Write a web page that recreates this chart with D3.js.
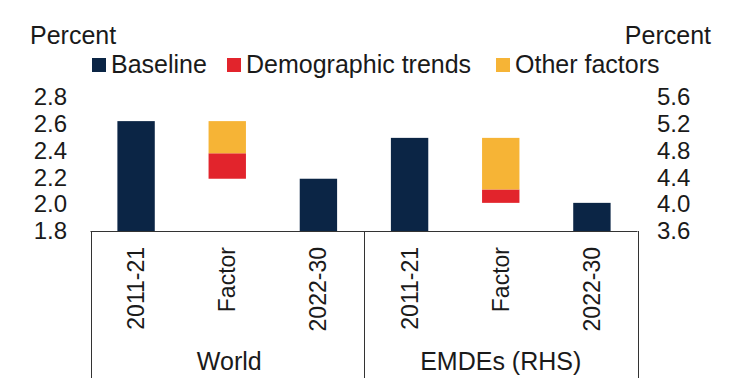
<!DOCTYPE html>
<html>
<head>
<meta charset="utf-8">
<script src="https://cdn.jsdelivr.net/npm/d3@7"></script>
<style>
  html, body { margin: 0; padding: 0; background: #fff; }
  svg { display: block; font-family: Arial, "Liberation Sans", sans-serif; }
</style>
</head>
<body>
<svg id="chart" width="731" height="386"></svg>
<script>
// ---- data ----
const groups = ["World", "EMDEs (RHS)"];
const periods = ["2011-21", "Factor", "2022-30"];
const baseline2011 = [2.62, 4.99];      // World (LHS), EMDEs (RHS)
const baseline2022 = [2.19, 4.02];
const demographicTrends = [-0.19, -0.20];
const otherFactors = [-0.24, -0.77];
const leftTicks = ["1.8", "2.0", "2.2", "2.4", "2.6", "2.8"];
const rightTicks = ["3.6", "4.0", "4.4", "4.8", "5.2", "5.6"];
const legendLabels = ["Baseline", "Demographic trends", "Other factors"];
const colors = { base: "#0b2545", demo: "#e2242c", other: "#f6b436" };

const svg = d3.select("#chart");
const textColor = "#1a1a1a";

const plotTop = 97, plotBottom = 231;
const yL = d3.scaleLinear().domain([1.8, 2.8]).range([plotBottom, plotTop]);
const yR = d3.scaleLinear().domain([3.6, 5.6]).range([plotBottom, plotTop]);
const scales = [yL, yR];

const cats = [];
groups.forEach(g => periods.forEach(p => cats.push(g + "|" + p)));
const x = d3.scaleBand().domain(cats).range([90.5, 637.5]).paddingInner(0.59).paddingOuter(0.295);
const step = x.step();

// build bar segments
const segs = [];
groups.forEach((g, i) => {
  const y = scales[i];
  segs.push({ cat: g + "|2011-21", y0: y.domain()[0], y1: baseline2011[i], color: colors.base, y });
  segs.push({ cat: g + "|2022-30", y0: y.domain()[0], y1: baseline2022[i], color: colors.base, y });
  const demoTop = baseline2022[i] - demographicTrends[i];
  segs.push({ cat: g + "|Factor", y0: baseline2022[i], y1: demoTop, color: colors.demo, y });
  segs.push({ cat: g + "|Factor", y0: demoTop, y1: demoTop - otherFactors[i], color: colors.other, y });
});

svg.append("g").selectAll("rect").data(segs).join("rect")
  .attr("x", d => x(d.cat))
  .attr("width", x.bandwidth())
  .attr("y", d => d.y(d.y1))
  .attr("height", d => d.y(d.y0) - d.y(d.y1))
  .attr("fill", d => d.color);

// left axis
const axL = svg.append("g").attr("transform", "translate(67,0)")
  .call(d3.axisLeft(yL).tickValues(leftTicks.map(Number)).tickFormat(d3.format(".1f")).tickSize(0).tickPadding(0));
axL.select(".domain").remove();
axL.selectAll("text").attr("font-size", 24).attr("fill", textColor).attr("font-family", "Arial, 'Liberation Sans', sans-serif");

// right axis
const axR = svg.append("g").attr("transform", "translate(657,0)")
  .call(d3.axisRight(yR).tickValues(rightTicks.map(Number)).tickFormat(d3.format(".1f")).tickSize(0).tickPadding(0));
axR.select(".domain").remove();
axR.selectAll("text").attr("font-size", 24).attr("fill", textColor).attr("font-family", "Arial, 'Liberation Sans', sans-serif");

// category box lines
const lineColor = "#333";
const xLeft = x.range()[0], xRight = x.range()[1];
const xMid = x(groups[1] + "|" + periods[0]) - x.paddingInner() * step / 2;
svg.append("line").attr("x1", xLeft).attr("x2", xRight).attr("y1", plotBottom + 0.5).attr("y2", plotBottom + 0.5)
  .attr("stroke", lineColor).attr("stroke-width", 1);
[xLeft, xMid, xRight].forEach(v => {
  svg.append("line").attr("x1", Math.round(v) + 0.5).attr("x2", Math.round(v) + 0.5)
    .attr("y1", plotBottom).attr("y2", 378).attr("stroke", lineColor).attr("stroke-width", 1);
});

// rotated period labels
svg.append("g").selectAll("text").data(cats).join("text")
  .attr("transform", d => `translate(${x(d) + x.bandwidth() / 2 + 8},247) rotate(-90)`)
  .attr("text-anchor", "end")
  .attr("font-size", 23)
  .attr("fill", textColor)
  .text(d => d.split("|")[1]);

// group labels
svg.append("g").selectAll("text").data(groups).join("text")
  .attr("x", (d, i) => i === 0 ? (xLeft + xMid) / 2 + 2 : (xMid + xRight) / 2)
  .attr("y", 370)
  .attr("text-anchor", "middle")
  .attr("font-size", 25)
  .attr("fill", textColor)
  .text(d => d);

// axis titles
svg.append("text").attr("x", 30).attr("y", 44).attr("font-size", 25).attr("fill", textColor).text("Percent");
svg.append("text").attr("x", 711).attr("y", 44).attr("text-anchor", "end").attr("font-size", 25).attr("fill", textColor).text("Percent");

// legend
const legX = [92, 227, 496];
const legColors = [colors.base, colors.demo, colors.other];
const leg = svg.append("g");
legendLabels.forEach((l, i) => {
  leg.append("rect").attr("x", legX[i]).attr("y", 58).attr("width", 14).attr("height", 14).attr("fill", legColors[i]);
  leg.append("text").attr("x", legX[i] + 19).attr("y", 73).attr("font-size", 25).attr("fill", textColor).text(l);
});
</script>
</body>
</html>
